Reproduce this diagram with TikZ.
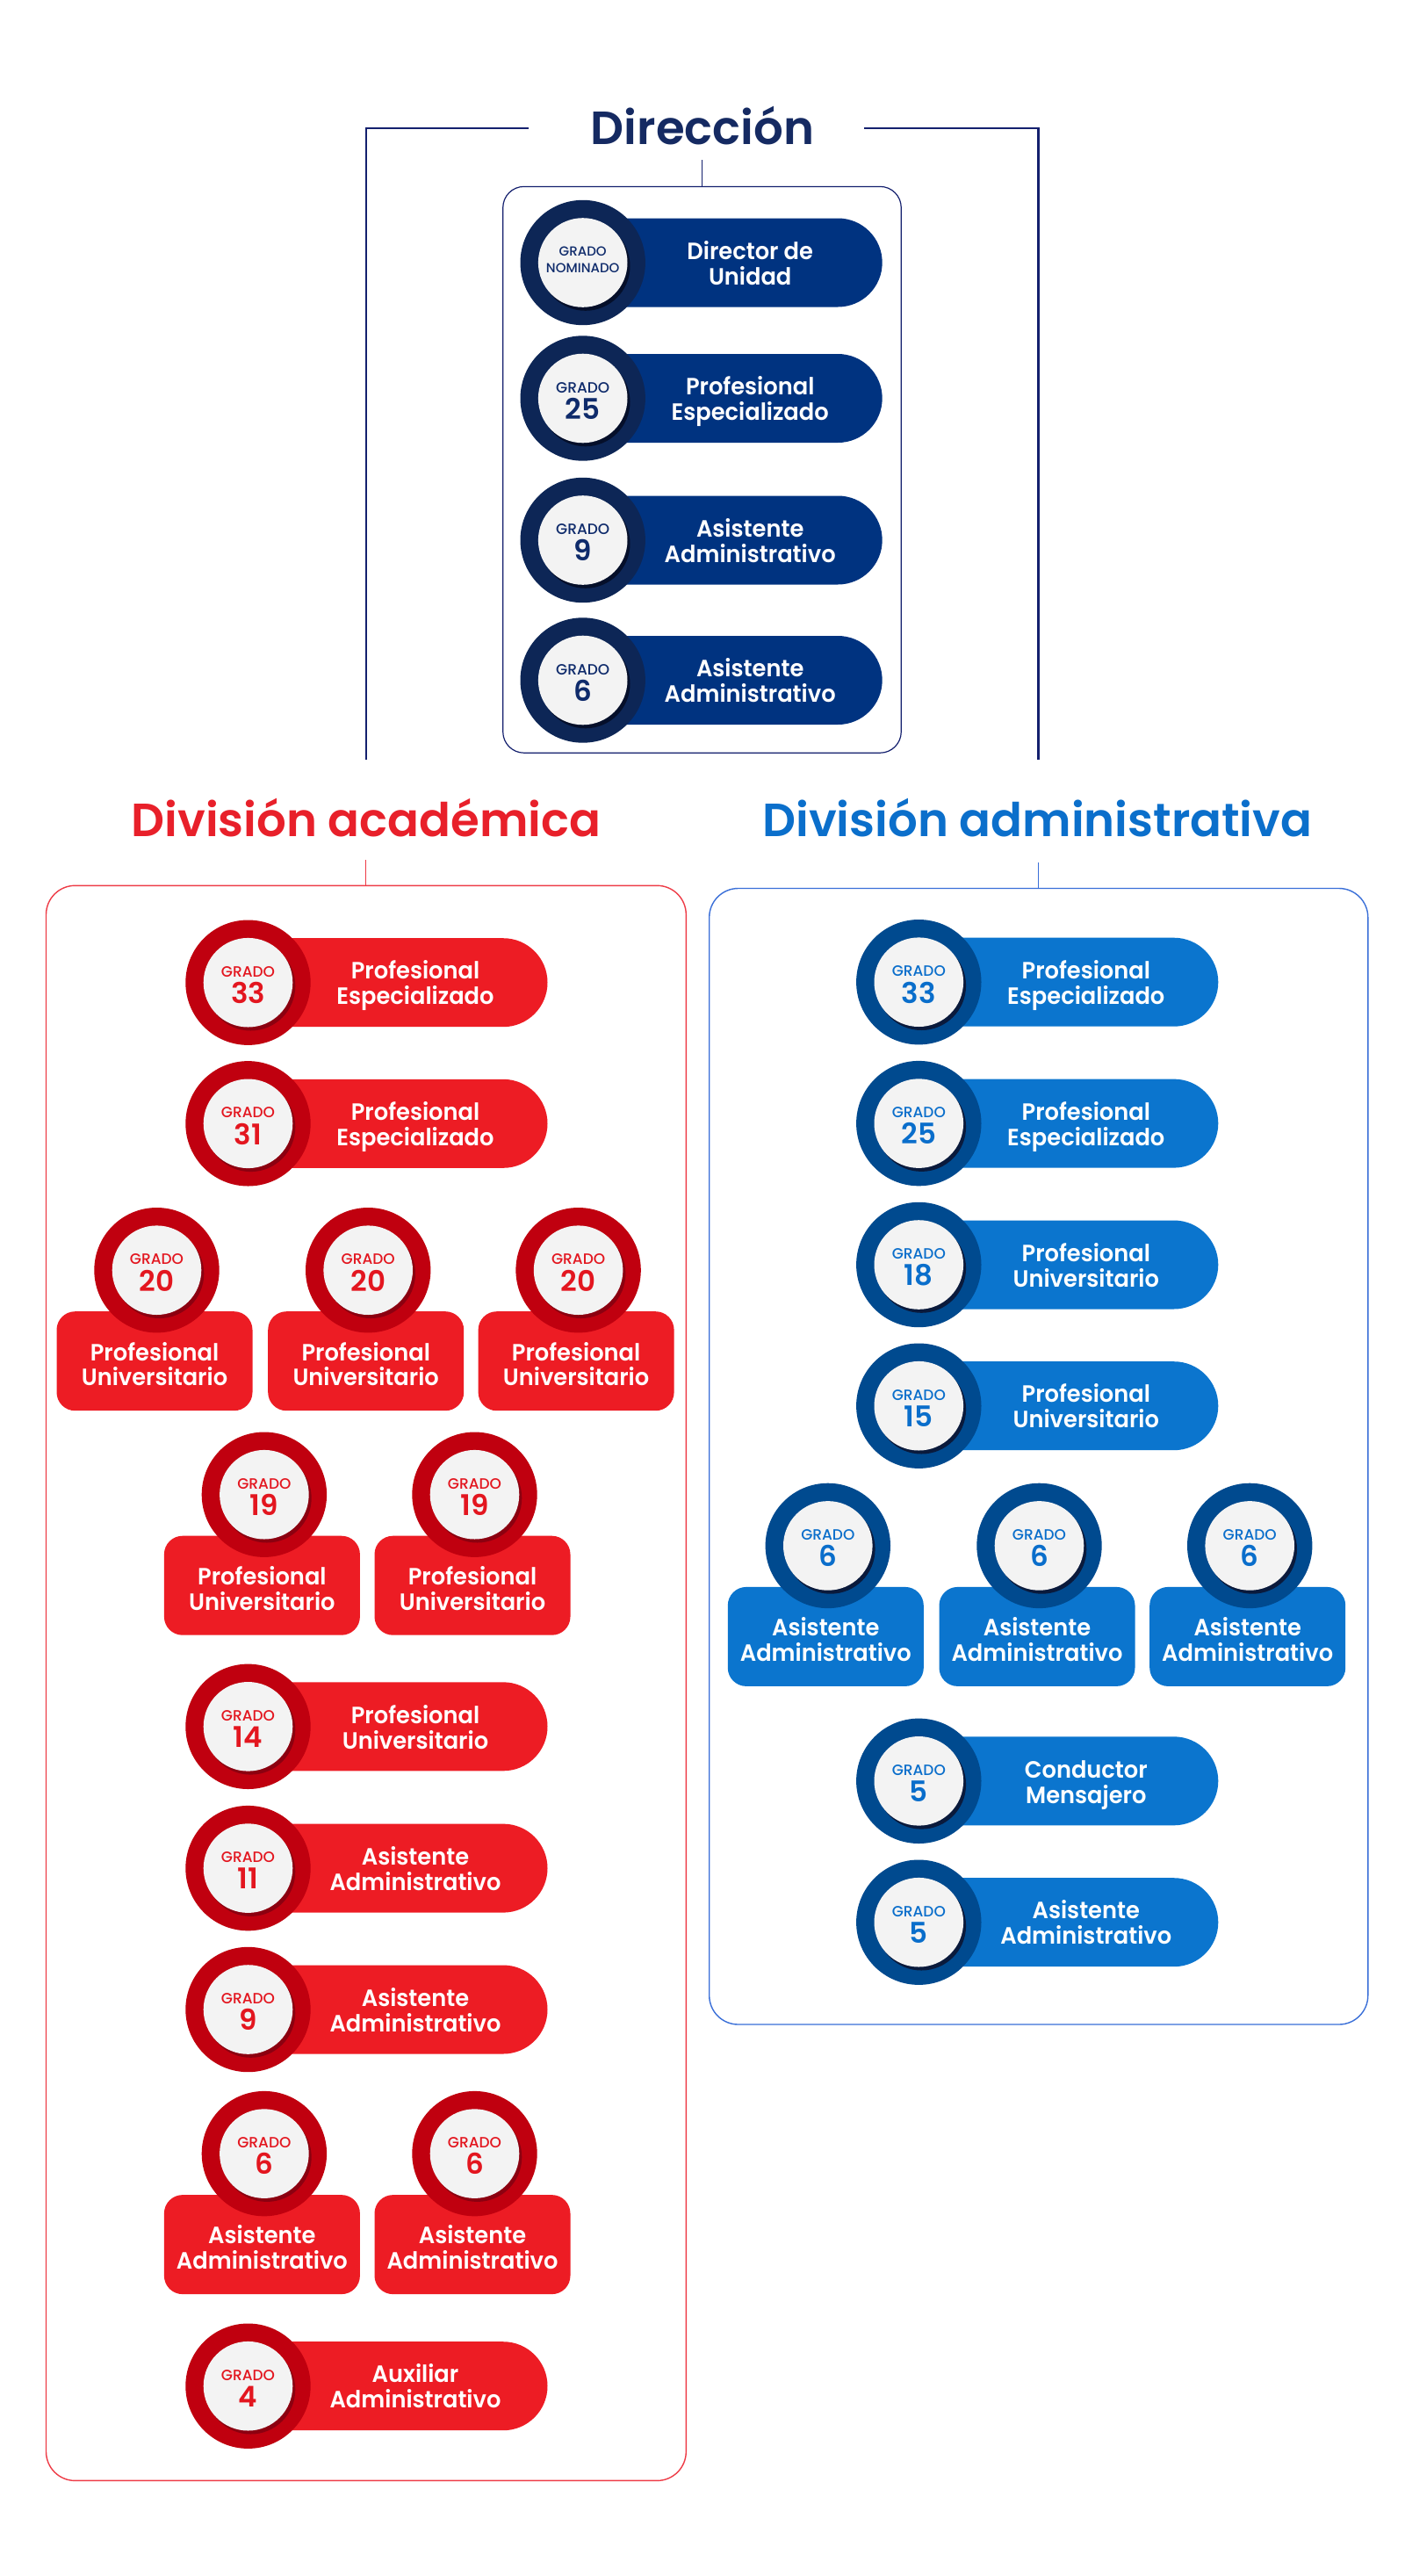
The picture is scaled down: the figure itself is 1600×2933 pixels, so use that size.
\documentclass[tikz,border=0pt]{standalone}
\usepackage{fontspec}
\setmainfont{Poppins}
\newfontfamily\fmed{Poppins Medium}
\newfontfamily\fsemi{Poppins SemiBold}
\newfontfamily\flbl{Poppins SemiBold}[FakeStretch=0.96]
\usetikzlibrary{calc}
\definecolor{navyT}{HTML}{152A62}
\definecolor{navyL}{HTML}{14206E}
\definecolor{pillD}{HTML}{003380}
\definecolor{ringD}{HTML}{0D2656}
\definecolor{shadD}{HTML}{050F2A}
\definecolor{numD}{HTML}{0F2B6B}
\definecolor{redT}{HTML}{E8202A}
\definecolor{redL}{HTML}{EE3B46}
\definecolor{pillR}{HTML}{ED1C24}
\definecolor{ringR}{HTML}{C0000F}
\definecolor{shadR}{HTML}{8C0010}
\definecolor{numR}{HTML}{E3161F}
\definecolor{blueT}{HTML}{0B6FCB}
\definecolor{blueL}{HTML}{3A6FD8}
\definecolor{pillB}{HTML}{0B75CE}
\definecolor{ringB}{HTML}{004A8F}
\definecolor{shadB}{HTML}{0A1A3C}
\definecolor{numB}{HTML}{0A6ECB}
\definecolor{innr}{HTML}{F3F3F3}
\tikzset{
  ttl/.style={font=\fsemi\fontsize{53}{60}\selectfont, anchor=base, inner sep=0pt},
  lbl/.style={font=\flbl\fontsize{26.8}{30}\selectfont, text=white, anchor=base, inner sep=0pt},
  grd/.style={font=\fmed\fontsize{17}{19}\selectfont, anchor=base, inner sep=0pt},
  grds/.style={font=\fmed\fontsize{15}{17}\selectfont, anchor=base, inner sep=0pt},
  nmb/.style={font=\fsemi\fontsize{32.5}{36}\selectfont, anchor=base, inner sep=0pt},
  frame/.style={draw, line width=1.4pt, rounded corners=#1, inner sep=0pt},
  conn/.style={line width=1.4pt},
  bracket/.style={draw=navyL, line width=2.4pt}
}
% badge: circle with ring, shadow and light disc
\newcommand\badge[3]{% cx, cy, scheme
  \fill[ring#3] (#1,#2) circle[radius=71.2];
  \fill[shad#3] ({#1+3},{#2+4}) circle[radius=50.8];
  \fill[innr] (#1,#2) circle[radius=50.8];
}
% pill item: name, cx, cy, scheme, number, line1, line2
\newcommand\pillitem[7]{%
  \fill[pill#4, rounded corners=50.5pt] ({#2-60},{#3-50.5}) rectangle ({#2+341},{#3+50.5});
  \badge{#2}{#3}{#4}
  \node[grd,text=num#4] (#1g) at (#2,{#3-6.5}) {GRADO};
  \node[nmb,text=num#4] (#1n) at (#2,{#3+23.8}) {#5};
  \node[lbl] (#1a) at ({#2+190.5},{#3-3.8}) {#6};
  \node[lbl] (#1b) at ({#2+190.5},{#3+25.2}) {#7};
}
% box item: circle above a rounded box
\newcommand\boxitem[7]{%
  \fill[pill#4, rounded corners=21pt] ({#2-114},{#3+47}) rectangle ({#2+109},{#3+160});
  \badge{#2}{#3}{#4}
  \node[grd,text=num#4] (#1g) at (#2,{#3-6.5}) {GRADO};
  \node[nmb,text=num#4] (#1n) at (#2,{#3+23.8}) {#5};
  \node[lbl] (#1a) at ({#2-2.5},{#3+102.8}) {#6};
  \node[lbl] (#1b) at ({#2-2.5},{#3+131.3}) {#7};
}
\begin{document}
\begin{tikzpicture}[x=1pt,y=-1pt]
\useasboundingbox (0,0) rectangle (1600,2933);
\fill[white] (0,0) rectangle (1600,2933);

% frames
\node[frame=24pt, draw=navyL, line width=1.2pt, minimum width=453.5pt, minimum height=644.8pt] (dirbox) at (799.5,534.8) {};
\node[frame=33pt, draw=redL, minimum width=728.8pt, minimum height=1816.1pt] (acabox) at (416.9,1916.35) {};
\node[frame=33pt, draw=blueL, minimum width=750.1pt, minimum height=1293.5pt] (admbox) at (1182.75,1658.25) {};

% titles
\node[ttl, text=navyT] (dirt) at (800,164.7) {Dirección};
\node[ttl, text=redT] (acat) at (417.1,952) {División académica};
\node[ttl, text=blueT] (admt) at (1181.4,952) {División administrativa};

% connectors
\coordinate (dirc) at (799.7,182);
\coordinate (acac) at (416.7,979);
\coordinate (admc) at (1182.7,982);
\draw[conn, navyL, line width=1.2pt] (dirc) -- (dirc |- dirbox.north);
\draw[conn, redL] (acac) -- (acac |- acabox.north);
\draw[conn, blueL] (admc) -- (admc |- admbox.north);
\coordinate (bl0) at (602.2,146);
\coordinate (bl1) at (416.7,865);
\coordinate (br0) at (984,146);
\coordinate (br1) at (1182.5,865);
\draw[bracket] (bl1) |- (bl0);
\draw[bracket] (br0) -| (br1);

% Direccion
\fill[pillD, rounded corners=50.5pt] (603.7,248.5) rectangle (1004.7,349.5);
\badge{663.7}{299}{D}
\node[grds,text=numD] (d1g) at (663.7,291.5) {GRADO};
\node[grds,text=numD] (d1n) at (663.7,310.5) {NOMINADO};
\node[lbl] (d1a) at (854.2,295.2) {Director de};
\node[lbl] (d1b) at (854.2,324.2) {Unidad};
\pillitem{d2}{663.7}{453.5}{D}{25}{Profesional}{Especializado}
\pillitem{d3}{663.7}{615}{D}{9}{Asistente}{Administrativo}
\pillitem{d4}{663.7}{774.5}{D}{6}{Asistente}{Administrativo}

% Division academica
\pillitem{a1}{282.5}{1118.7}{R}{33}{Profesional}{Especializado}
\pillitem{a2}{282.5}{1279.3}{R}{31}{Profesional}{Especializado}
\boxitem{a3}{178.5}{1446.2}{R}{20}{Profesional}{Universitario}
\boxitem{a4}{419.2}{1446.2}{R}{20}{Profesional}{Universitario}
\boxitem{a5}{658.6}{1446.2}{R}{20}{Profesional}{Universitario}
\boxitem{a6}{300.9}{1701.7}{R}{19}{Profesional}{Universitario}
\boxitem{a7}{540.5}{1701.7}{R}{19}{Profesional}{Universitario}
\pillitem{a8}{282.5}{1965.8}{R}{14}{Profesional}{Universitario}
\pillitem{a9}{282.5}{2127.1}{R}{11}{Asistente}{Administrativo}
\pillitem{a10}{282.5}{2288}{R}{9}{Asistente}{Administrativo}
\boxitem{a11}{300.9}{2452.1}{R}{6}{Asistente}{Administrativo}
\boxitem{a12}{540.5}{2452.1}{R}{6}{Asistente}{Administrativo}
\pillitem{a13}{282.5}{2716.7}{R}{4}{Auxiliar}{Administrativo}

% Division administrativa
\pillitem{b1}{1046.3}{1118.2}{B}{33}{Profesional}{Especializado}
\pillitem{b2}{1046.3}{1279.1}{B}{25}{Profesional}{Especializado}
\pillitem{b3}{1046.3}{1440}{B}{18}{Profesional}{Universitario}
\pillitem{b4}{1046.3}{1600.7}{B}{15}{Profesional}{Universitario}
\boxitem{b5}{942.8}{1759.9}{B}{6}{Asistente}{Administrativo}
\boxitem{b6}{1183.5}{1759.9}{B}{6}{Asistente}{Administrativo}
\boxitem{b7}{1423.2}{1759.9}{B}{6}{Asistente}{Administrativo}
\pillitem{b8}{1046.3}{2027.8}{B}{5}{Conductor}{Mensajero}
\pillitem{b9}{1046.3}{2188.7}{B}{5}{Asistente}{Administrativo}
\end{tikzpicture}
\end{document}
